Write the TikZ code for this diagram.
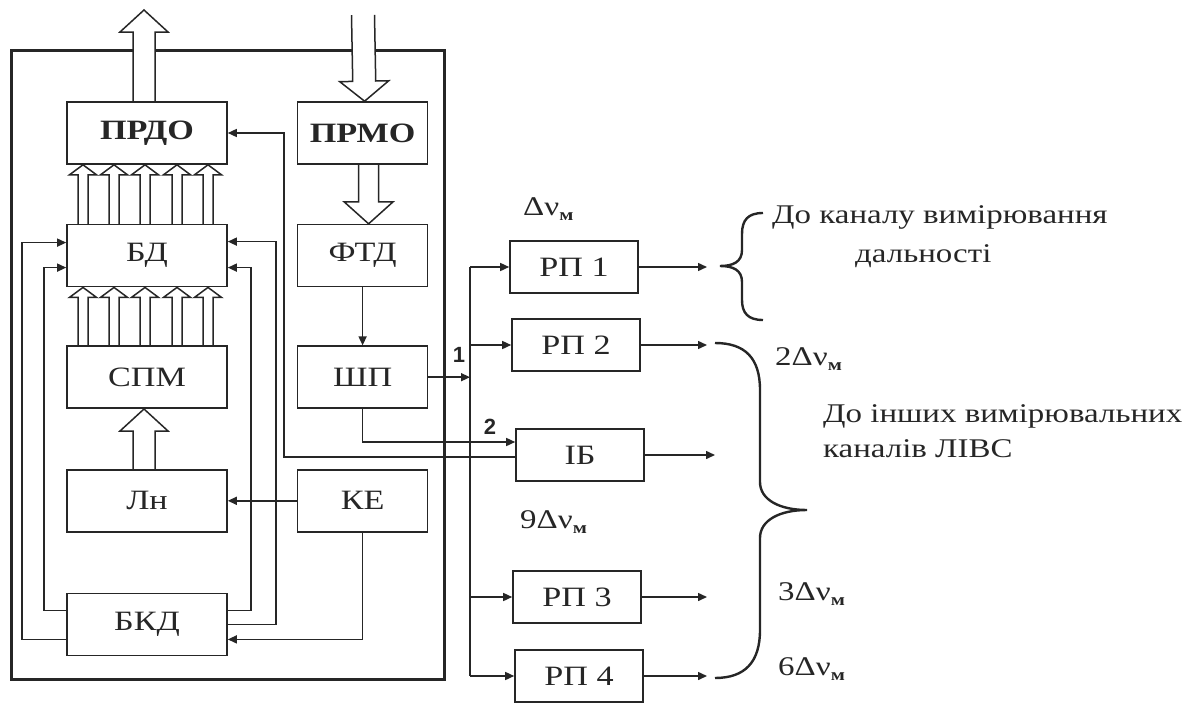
\documentclass[tikz,border=0pt]{standalone}
\usepackage{fontspec}
\setmainfont{Liberation Serif}[FakeStretch=1.22]
\newfontfamily\numfont{Liberation Sans}
\usepackage{tikz}
\usetikzlibrary{arrows.meta, positioning, calc, backgrounds}
\definecolor{ink}{HTML}{262626}
\tikzset{
  blk/.style={draw=ink, fill=white, minimum width=160pt, minimum height=62pt, inner sep=0pt,
    font=\fontsize{28}{30}\selectfont, text=ink, line width=1.6pt},
  blkb/.style={blk, font=\fontsize{28}{30}\selectfont\bfseries},
  blkr/.style={blk, minimum width=130pt},
  rpbox/.style={blk, minimum width=128pt, minimum height=52pt},
  flow/.style={-{Triangle[length=9pt,width=8pt]}, draw=ink, line width=1.5pt},
  wire/.style={draw=ink, line width=1.5pt},
  lbl/.style={font=\fontsize{27}{35}\selectfont, text=ink, inner sep=0pt},
  numlbl/.style={font=\numfont\fontsize{22}{22}\selectfont\bfseries, text=ink, inner sep=0pt},
  brace/.style={draw=ink, line width=2.4pt},
  frame/.style={draw=ink, line width=3pt},
  fatline/.style={draw=ink, fill=white, line width=1.5pt, line join=miter}
}
% hollow arrow: start, tip, shaft half width, head half width, head length
\newcommand\fatarrow[5]{%
  \coordinate (fa-b) at ($(#2)!#5!(#1)$);
  \draw[fatline] ($(#1)!#3!90:(#2)$) -- ($(fa-b)!#3!90:(#2)$) -- ($(fa-b)!#4!90:(#2)$)
    -- (#2) -- ($(fa-b)!#4!-90:(#2)$) -- ($(fa-b)!#3!-90:(#2)$) -- ($(#1)!#3!-90:(#2)$);
}
\newcommand\dnu{Δν\raisebox{-5pt}{\fontsize{17}{17}\selectfont\bfseries м}}

\begin{document}
\begin{tikzpicture}[x=1pt, y=-1pt, node distance=59pt and 69pt]
\useasboundingbox (0,0) rectangle (1187,704);
% left column
\node[blkb] (prdo) at (147,133) {ПРДО};
\node[blk, below=of prdo] (bd) {БД};
\node[blk, below=58pt of bd] (spm) {СПМ};
\node[blk, below=60pt of spm] (ln) {Лн};
\node[blk, below=60pt of ln] (bkd) {БКД};
% right column
\node[blkb, minimum width=130pt, right=of prdo] (prmo) {ПРМО};
\node[blkr, right=of bd] (ftd) {ФТД};
\node[blkr, right=of spm] (shp) {ШП};
\node[blkr, right=of ln] (ke) {КЕ};
% receivers
\node[rpbox] (rp1) at (574,267) {РП 1};
\node[rpbox] (rp2) at (576,345) {РП 2};
\node[rpbox] (ib) at (580,455) {ІБ};
\node[rpbox] (rp3) at (577,597) {РП 3};
\node[rpbox] (rp4) at (579,676) {РП 4};
\coordinate (out) at (144,10);
\coordinate (in) at (363,15);
\coordinate (bus) at (470,0);
\coordinate (outx) at (707,0);
\coordinate (outib) at (715,0);

\begin{scope}[on background layer]
\draw[frame] (11,50) rectangle (444,679);
\coordinate (a1) at ($(prdo.north)+(-3,0)$);
\fatarrow{a1}{out}{11pt}{24pt}{22pt}
\coordinate (a2) at ($(prmo.north)+(2,0)$);
\fatarrow{in}{a2}{11.5pt}{24.5pt}{20pt}
\coordinate (a3) at ($(prmo.south)+(6,0)$);
\coordinate (a4) at ($(ftd.north)+(6,0)$);
\fatarrow{a3}{a4}{10pt}{24.5pt}{22pt}
\coordinate (a5) at ($(ln.north)+(-3,0)$);
\coordinate (a6) at ($(spm.south)+(-3,0)$);
\fatarrow{a5}{a6}{11pt}{24pt}{22pt}
\foreach \dx in {-64,-33,-2,30,61} {
  \coordinate (sa) at ($(bd.north)+(\dx,0)$);
  \coordinate (sb) at ($(prdo.south)+(\dx,0)$);
  \fatarrow{sa}{sb}{5pt}{13.5pt}{10pt}
  \coordinate (sc) at ($(spm.north)+(\dx,0)$);
  \coordinate (sd) at ($(bd.south)+(\dx,0)$);
  \fatarrow{sc}{sd}{5pt}{13.5pt}{10pt}
}
\end{scope}

% control links
\draw[flow] (ke.west) -- (ln.east);
\draw[flow] (ke.south) |- ($(bkd.east)+(0,15)$);
\draw[flow] ($(bkd.west)+(0,15)$) -| ($(bd.west)+(-44,-13)$) -- ($(bd.west)+(0,-13)$);
\draw[flow] ($(bkd.west)+(0,-14)$) -| ($(bd.west)+(-22,12)$) -- ($(bd.west)+(0,12)$);
\draw[flow] ($(bkd.east)+(0,-14)$) -| ($(bd.east)+(23,12)$) -- ($(bd.east)+(0,12)$);
\draw[flow] (bkd.east) -| ($(bd.east)+(48,-14)$) -- ($(bd.east)+(0,-14)$);
\draw[flow] (ftd.south) -- (shp.north);
\draw[flow] (shp.south) |- ($(ib.west)+(0,-13)$);
\draw[flow] ($(ib.west)+(0,2)$) -| ($(prdo.east)+(56,0)$) -- (prdo.east);
% distribution bus
\draw[flow] (shp.east) -- (shp.east -| bus);
\draw[wire] (rp1.west -| bus) -- (rp4.west -| bus);
\foreach \r in {rp1,rp2,rp3,rp4} {
  \draw[flow] (\r.west -| bus) -- (\r.west);
  \draw[flow] (\r.east) -- (\r.east -| outx);
}
\draw[flow] (ib.east) -- (ib.east -| outib);
\node[numlbl] (n1) at (459,355) {1};
\node[numlbl] (n2) at (490,427) {2};

% braces
\draw[brace] (763,213) .. controls (748,213) and (742,220) .. (742,234) -- (742,250)
  .. controls (742,262) and (733,266) .. (720,266) .. controls (733,266) and (742,270) .. (742,282)
  -- (742,300) .. controls (742,313) and (748,320) .. (763,320);
\draw[brace] (715,343) .. controls (745,343) and (760,358) .. (760,390) -- (760,482)
  .. controls (760,500) and (780,510) .. (807,510) .. controls (780,510) and (760,520) .. (760,538)
  -- (760,630) .. controls (760,662) and (745,678) .. (715,678);

% labels
\node[lbl, anchor=base west] (f1) at (523,215) {\dnu};
\node[lbl, anchor=base west] (f9) at (520,528) {9\dnu};
\node[lbl, anchor=base west] (f2) at (775,365) {2\dnu};
\node[lbl, anchor=base west] (f3) at (778,600) {3\dnu};
\node[lbl, anchor=base west] (f6) at (778,675) {6\dnu};
\node[lbl, anchor=base west] (t1a) at (772,223) {До каналу вимірювання};
\node[lbl, anchor=base west] (t1b) at (855,262) {дальності};
\node[lbl, anchor=base west, align=left] (t2) at (823,457) {До інших вимірювальних\\каналів ЛІВС};
\end{tikzpicture}
\end{document}
